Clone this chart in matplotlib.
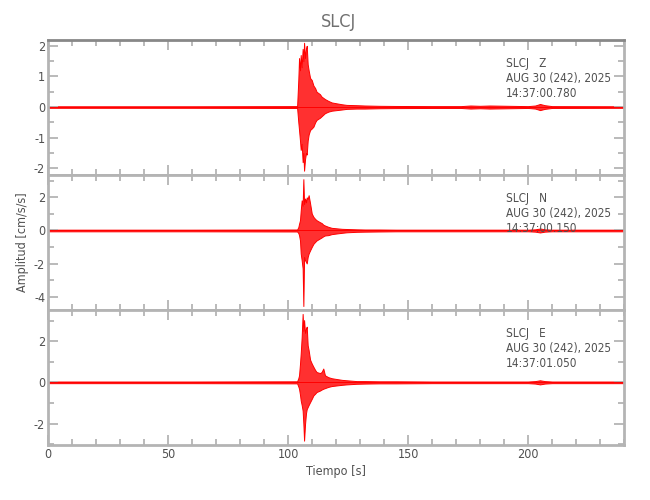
import matplotlib
matplotlib.use('Agg')
import matplotlib.pyplot as plt
from matplotlib.ticker import MultipleLocator

plt.rcParams['font.family'] = ['DejaVu Sans']
plt.rcParams['font.stretch'] = 'condensed'
plt.rcParams['axes.unicode_minus'] = False

# envelope of the three traces (seconds / cm/s/s)
t = [0, 60, 103.8, 104.3, 104.6, 105.0, 105.3, 105.7, 106.1, 106.4, 106.7,
     107.1, 107.5, 107.8, 108.2, 108.6, 109.2, 109.9, 110.6, 111.3, 111.9,
     113.3, 114.0, 114.7, 115.4, 116.8, 118.2, 120.3, 122.5, 124.4, 128.6,
     132, 138, 145, 160, 172, 176, 180, 184, 200, 203, 205, 207, 210, 240]

z_hi = [0.025, 0.025, 0.03, 0.9, 1.6, 1.2, 1.7, 1.3, 1.9, 1.5, 2.1,
        1.6, 1.9, 2.0, 1.4, 1.2, 0.95, 0.88, 0.7, 0.62, 0.5,
        0.42, 0.34, 0.3, 0.26, 0.2, 0.15, 0.12, 0.09, 0.07, 0.06,
        0.05, 0.04, 0.035, 0.03, 0.03, 0.05, 0.04, 0.05, 0.03, 0.05, 0.1, 0.06, 0.03, 0.025]
z_lo = [-0.025, -0.025, -0.03, -0.5, -0.75, -1.1, -1.4, -1.2, -1.8, -1.5, -2.08,
        -1.7, -1.5, -1.55, -1.1, -0.9, -0.75, -0.7, -0.64, -0.5, -0.42,
        -0.35, -0.3, -0.25, -0.2, -0.15, -0.12, -0.1, -0.08, -0.06, -0.05,
        -0.05, -0.04, -0.035, -0.03, -0.03, -0.05, -0.04, -0.05, -0.03, -0.05, -0.1, -0.06, -0.03, -0.025]

n_hi = [0.05, 0.05, 0.06, 0.2, 0.4, 0.62, 1.2, 1.82, 1.5, 3.1, 1.6,
        1.93, 1.7, 2.0, 1.9, 2.13, 1.64, 1.02, 0.82, 0.7, 0.62,
        0.5, 0.45, 0.35, 0.3, 0.22, 0.16, 0.13, 0.1, 0.09, 0.07,
        0.06, 0.06, 0.05, 0.05, 0.05, 0.05, 0.05, 0.05, 0.05, 0.07, 0.12, 0.07, 0.05, 0.05]
n_lo = [-0.05, -0.05, -0.06, -0.15, -0.28, -0.6, -1.39, -1.8, -2.29, -4.56, -1.6,
        -1.79, -1.9, -1.99, -1.6, -1.39, -1.2, -0.99, -0.8, -0.69, -0.6,
        -0.48, -0.42, -0.35, -0.3, -0.28, -0.22, -0.18, -0.14, -0.11, -0.08,
        -0.07, -0.06, -0.05, -0.05, -0.05, -0.05, -0.05, -0.05, -0.05, -0.07, -0.12, -0.07, -0.05, -0.05]

e_hi = [0.04, 0.04, 0.05, 0.2, 0.34, 0.9, 1.4, 2.2, 3.32, 2.5, 3.02,
        2.4, 2.6, 2.7, 1.8, 1.56, 1.1, 0.91, 0.75, 0.6, 0.5,
        0.45, 0.5, 0.67, 0.34, 0.25, 0.2, 0.16, 0.12, 0.1, 0.06,
        0.06, 0.05, 0.05, 0.04, 0.04, 0.04, 0.04, 0.04, 0.04, 0.06, 0.1, 0.06, 0.04, 0.04]
e_lo = [-0.04, -0.04, -0.05, -0.2, -0.31, -0.6, -0.88, -1.1, -1.37, -2.0, -2.83,
        -2.02, -1.5, -1.3, -1.2, -1.1, -0.96, -0.8, -0.63, -0.55, -0.47,
        -0.4, -0.35, -0.31, -0.28, -0.22, -0.18, -0.15, -0.12, -0.1, -0.07,
        -0.06, -0.05, -0.05, -0.04, -0.04, -0.04, -0.04, -0.04, -0.04, -0.06, -0.1, -0.06, -0.04, -0.04]

components = ['Z', 'N', 'E']
start_times = ['14:37:00.780', '14:37:00.150', '14:37:01.050']
ylims = [(-2.22, 2.19), (-4.8, 3.35), (-3.04, 3.51)]
ymajor = [1, 2, 2]
yminor = [0.5, 1, 1]

traces = [(z_hi, z_lo), (n_hi, n_lo), (e_hi, e_lo)]

gray = '#b4b4b4'
txt = '#505050'

fig = plt.figure(figsize=(6.5, 5), dpi=100)
left, width = 48 / 650, 576 / 650
tops = [40, 175, 310]
h = 135

for i, comp in enumerate(components):
    ax = fig.add_axes([left, 1 - (tops[i] + h) / 500, width, h / 500])
    hi, lo = traces[i]
    ax.fill_between(t, lo, hi, facecolor='#ff3030', lw=0.7, edgecolor='red')
    ax.axhline(0, color='red', lw=0.7)
    ax.set_xlim(0, 240)
    ax.set_ylim(*ylims[i])
    ax.xaxis.set_major_locator(MultipleLocator(50))
    ax.xaxis.set_minor_locator(MultipleLocator(10))
    ax.yaxis.set_major_locator(MultipleLocator(ymajor[i]))
    ax.yaxis.set_minor_locator(MultipleLocator(yminor[i]))
    ax.tick_params(which='both', direction='in', top=True, right=True,
                   colors=gray, labelcolor=txt, labelsize=9, width=1.3, pad=2)
    ax.tick_params(which='major', length=7)
    ax.tick_params(which='minor', length=4)
    for s in ax.spines.values():
        s.set_color(gray)
        s.set_linewidth(2)
    if i == 0:
        ax.spines['top'].set_color('#888888')
    if i < 2:
        ax.tick_params(labelbottom=False)
    ax.text(0.795, 0.875, 'SLCJ   %s\nAUG 30 (242), 2025\n%s' % (comp, start_times[i]),
            transform=ax.transAxes, ha='left', va='top', fontsize=8.5,
            color=txt, linespacing=1.2)
    if i == 2:
        ax.set_xlabel('Tiempo [s]', fontsize=9, color=txt, labelpad=3)

fig.text(338 / 650, 1 - 22 / 500, 'SLCJ', ha='center', va='center', fontsize=13, color='#707070')
fig.text(23 / 650, 0.516, 'Amplitud [cm/s/s]', rotation=90, ha='center', va='center',
         fontsize=9, color=txt)

fig.savefig('out.png', dpi=100)
